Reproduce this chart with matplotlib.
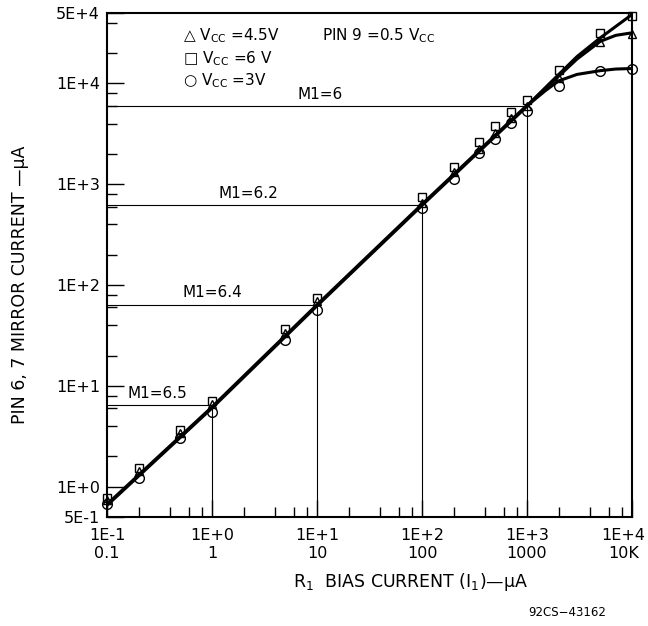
import matplotlib
matplotlib.use('Agg')
from matplotlib import pyplot as plt
from matplotlib.ticker import FixedLocator, NullFormatter
from matplotlib.transforms import ScaledTranslation

plt.rcParams['font.family'] = ['DejaVu Sans']
plt.rcParams['mathtext.fontset'] = 'dejavusans'

# measured points (bias current uA -> mirror current uA)
i1 = [0.1, 0.2, 0.5, 1, 5, 10, 100, 200, 350, 500, 700, 1000, 2000, 5000, 10000]
vcc_6 = [0.78, 1.52, 3.66, 7.1, 36.5, 74, 748, 1470, 2600, 3750, 5180, 6920, 13700, 31800, 46500]
vcc_45 = [0.74, 1.44, 3.44, 6.6, 33.4, 69, 652, 1310, 2240, 3230, 4550, 6030, 11400, 25600, 31000]
vcc_3 = [0.67, 1.21, 3.02, 5.56, 28.6, 56, 582, 1140, 2050, 2840, 4060, 5290, 9530, 13400, 14060]

# fitted curve, common part and the three branches above 1 mA
line_x = [0.1, 1, 10, 100, 1000]
line_y = [0.66, 6.1, 63, 625, 6000]
sq_bx = [1000, 2000, 3000, 5000, 10000]
sq_by = [6000, 12250, 18500, 28400, 48300]
tri_bx = [1000, 2000, 3000, 5000, 7000, 10000]
tri_by = [6000, 11800, 17500, 26200, 30000, 31800]
cir_bx = [1000, 1500, 2000, 3000, 5000, 7000, 10000]
cir_by = [6000, 8500, 10600, 12300, 13400, 13900, 14060]

# M1 reference lines
m1_x = [1, 10, 100, 1000]
m1_y = [6.5, 64, 620, 6000]
m1_lbl = ['M1=6.5', 'M1=6.4', 'M1=6.2', 'M1=6']
m1_lbl_x = [0.30, 1.0, 2.2, 10.6]

xticks = [0.1, 1, 10, 100, 1000, 10000]
xlabels = ['1E-1\n0.1', '1E+0\n1', '1E+1\n10', '1E+2\n100', '1E+3\n1000', '1E+4\n10K']
yticks = [0.5, 1, 10, 100, 1000, 10000, 50000]
ylabels = ['5E-1', '1E+0', '1E+1', '1E+2', '1E+3', '1E+4', '5E+4']

fig = plt.figure(figsize=(6.48, 6.26), dpi=100)
ax = fig.add_axes([107 / 648, 1 - 517 / 626, 525 / 648, 504 / 626])
ax.set_xscale('log')
ax.set_yscale('log')
ax.set_xlim(0.1, 1e4)
ax.set_ylim(0.5, 5e4)

for x, v in zip(m1_x, m1_y):
    ax.plot([0.1, x], [v, v], color='black', lw=0.8)
    ax.plot([x, x], [0.5, v], color='black', lw=0.8)
for lbl, lx, v in zip(m1_lbl, m1_lbl_x, m1_y):
    ax.annotate(lbl, xy=(lx, v), xytext=(0, 3), textcoords='offset points',
                ha='center', va='bottom', fontsize=11)

ax.plot(line_x, line_y, color='black', lw=2.8, solid_capstyle='round')
ax.plot(sq_bx, sq_by, color='black', lw=2.2)
ax.plot(tri_bx, tri_by, color='black', lw=2.2)
ax.plot(cir_bx, cir_by, color='black', lw=2.2)

ax.plot(i1, vcc_6, ls='none', marker='s', ms=6, mfc='none', mec='black', mew=1, clip_on=False)
ax.plot(i1, vcc_45, ls='none', marker='^', ms=6, mfc='none', mec='black', mew=1, clip_on=False)
ax.plot(i1, vcc_3, ls='none', marker='o', ms=7, mfc='none', mec='black', mew=1, clip_on=False)

ax.xaxis.set_major_locator(FixedLocator(xticks))
ax.set_xticklabels(xlabels)
ax.yaxis.set_major_locator(FixedLocator(yticks))
ax.set_yticklabels(ylabels)
minor_x = [m * 10.0 ** e for e in range(-1, 4) for m in (2, 4, 6, 8)]
minor_y = [m * 10.0 ** e for e in range(0, 5) for m in (2, 4, 6, 8) if m * 10.0 ** e < 5e4]
ax.xaxis.set_minor_locator(FixedLocator(minor_x))
ax.yaxis.set_minor_locator(FixedLocator(minor_y))
ax.xaxis.set_minor_formatter(NullFormatter())
ax.yaxis.set_minor_formatter(NullFormatter())
ax.tick_params(which='major', direction='in', length=12, width=1, labelsize=11.5, color='black')
ax.tick_params(which='minor', direction='in', length=7, width=1, color='black')
ax.tick_params(axis='x', which='major', pad=8)
ax.tick_params(axis='y', which='major', pad=5)
for s in ax.spines.values():
    s.set_linewidth(1.5)

# last x label sits at the figure edge, nudge it inside
last = ax.get_xticklabels()[-1]
last.set_transform(last.get_transform() + ScaledTranslation(-6 / 72, 0, fig.dpi_scale_trans))

ax.text(0.145, 0.955, '\u25b3 V$_{\\rm CC}$ =4.5V', transform=ax.transAxes, fontsize=11, va='center')
ax.text(0.145, 0.91, '\u25a1 V$_{\\rm CC}$ =6 V', transform=ax.transAxes, fontsize=11, va='center')
ax.text(0.145, 0.865, '\u25cb V$_{\\rm CC}$ =3V', transform=ax.transAxes, fontsize=11, va='center')
ax.text(0.41, 0.955, 'PIN 9 =0.5 V$_{\\rm CC}$', transform=ax.transAxes, fontsize=11, va='center')

fig.text(411 / 648, 1 - 582 / 626, 'R$_1$  BIAS CURRENT (I$_1$)\u2014\u03bcA', ha='center', va='center', fontsize=12.5)
fig.text(20 / 648, 1 - 285 / 626, 'PIN 6, 7 MIRROR CURRENT \u2014\u03bcA', rotation=90, ha='center', va='center', fontsize=12.5)
fig.text(567 / 648, 1 - 612 / 626, '92CS\u221243162', ha='center', va='center', fontsize=8.5)

plt.savefig('out.png', dpi=100)
